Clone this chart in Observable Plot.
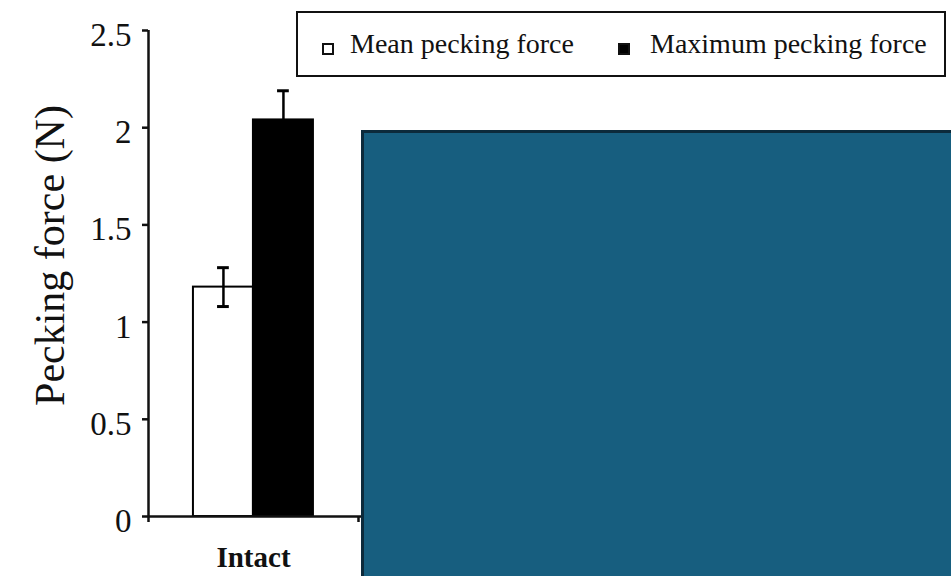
<!DOCTYPE html>
<html>
<head>
<meta charset="utf-8">
<script src="https://cdn.jsdelivr.net/npm/d3@7"></script>
<script src="https://cdn.jsdelivr.net/npm/@observablehq/plot@0.6"></script>
<style>
  html, body { margin: 0; padding: 0; background: #fff; }
  #wrap { position: relative; width: 951px; height: 576px; overflow: hidden; font-family: "Liberation Serif", "Times New Roman", serif; }
  #legend { position: absolute; left: 296px; top: 11px; width: 646px; height: 62px; border: 2px solid #111; background: #fff; }
  .sw { position: absolute; top: 30px; width: 8px; height: 8px; border: 2px solid #111; }
  .lt { position: absolute; top: 15px; font-size: 28px; line-height: 32px; color: #111; white-space: nowrap; }
  #cover { position: absolute; left: 361px; top: 130px; width: 600px; height: 460px; background: #175e7f; border: 3px solid #0c2a3b; box-sizing: border-box; }
</style>
</head>
<body>
<div id="wrap">
  <div id="chart"></div>
  <div id="legend"></div>
  <div id="cover"></div>
</div>
<script>
const categories = ["Intact"];
const series = ["Mean pecking force", "Maximum pecking force"];
const seriesFill = ["#ffffff", "#000000"];
const meanValues = [1.18];
const meanErrors = [0.10];
const maxValues = [2.04];
const maxErrors = [0.15];
const yTicks = [0, 0.5, 1, 1.5, 2, 2.5];
const yTickLabels = ["0", "0.5", "1", "1.5", "2", "2.5"];

// layout of a group inside a category slot (fractions of the slot)
const groupStart = 0.214, barWidth = 0.2857, capHalf = 0.028;

const rows = [];
categories.forEach((c, ci) => {
  [[meanValues, meanErrors], [maxValues, maxErrors]].forEach(([vals, errs], si) => {
    const x1 = ci + groupStart + si * barWidth;
    rows.push({cat: c, series: series[si], fill: seriesFill[si], value: vals[ci], err: errs[ci],
      x1, x2: x1 + barWidth, xc: x1 + barWidth / 2});
  });
});
const boundaries = d3.range(categories.length + 1);

const plot = Plot.plot({
  width: 951,
  height: 576,
  marginLeft: 148,
  marginRight: 0,
  marginTop: 30,
  marginBottom: 60,
  style: {fontFamily: "Liberation Serif, Times New Roman, serif", fontSize: "33px", color: "#111", background: "transparent"},
  x: {type: "linear", domain: [0, 1], range: [148, 358], axis: null},
  y: {domain: [0, 2.5], axis: null},
  marks: [
    Plot.rectY(rows, {x1: "x1", x2: "x2", y1: 0, y2: "value", fill: "fill", stroke: "#000", strokeWidth: 2}),
    Plot.ruleX(rows, {x: "xc", y1: d => d.value - d.err, y2: d => d.value + d.err, stroke: "#000", strokeWidth: 2.5}),
    Plot.ruleY(rows, {y: d => d.value + d.err, x1: d => d.xc - capHalf, x2: d => d.xc + capHalf, stroke: "#000", strokeWidth: 3}),
    Plot.ruleY(rows, {y: d => d.value - d.err, x1: d => d.xc - capHalf, x2: d => d.xc + capHalf, stroke: "#000", strokeWidth: 3}),
    Plot.ruleX([0], {stroke: "#111", strokeWidth: 2.5}),
    Plot.ruleY([0], {stroke: "#111", strokeWidth: 2.5}),
    Plot.ruleX(boundaries, {x: d => d, y1: 0, y2: 0, insetBottom: -6, stroke: "#111", strokeWidth: 2.5}),
    Plot.axisY({ticks: yTicks, tickSize: 6, strokeWidth: 2.5, stroke: "#111", text: null, label: null}),
    Plot.axisY({ticks: yTicks, tickFormat: d => yTickLabels[yTicks.indexOf(d)], tickSize: 0, tickPadding: 17, dy: 5, fill: "#111", label: null, fontSize: 33}),
    Plot.text(categories, {x: (d, i) => i + 0.5, y: 0, dy: 41, text: d => d, fontWeight: "bold", fontSize: 29, fill: "#111"}),
    Plot.text(["Pecking force (N)"], {frameAnchor: "left", textAnchor: "middle", text: d => d, rotate: -90, dx: -98, dy: -18, fontSize: 42, fill: "#111"})
  ]
});
document.getElementById("chart").appendChild(plot);

// legend built from the series arrays
const legend = document.getElementById("legend");
const swLeft = [24, 320], txtLeft = [52, 352];
series.forEach((s, i) => {
  const sw = document.createElement("div");
  sw.className = "sw";
  sw.style.left = swLeft[i] + "px";
  sw.style.background = seriesFill[i];
  legend.appendChild(sw);
  const t = document.createElement("div");
  t.className = "lt";
  t.style.left = txtLeft[i] + "px";
  t.textContent = s;
  legend.appendChild(t);
});
</script>
</body>
</html>
